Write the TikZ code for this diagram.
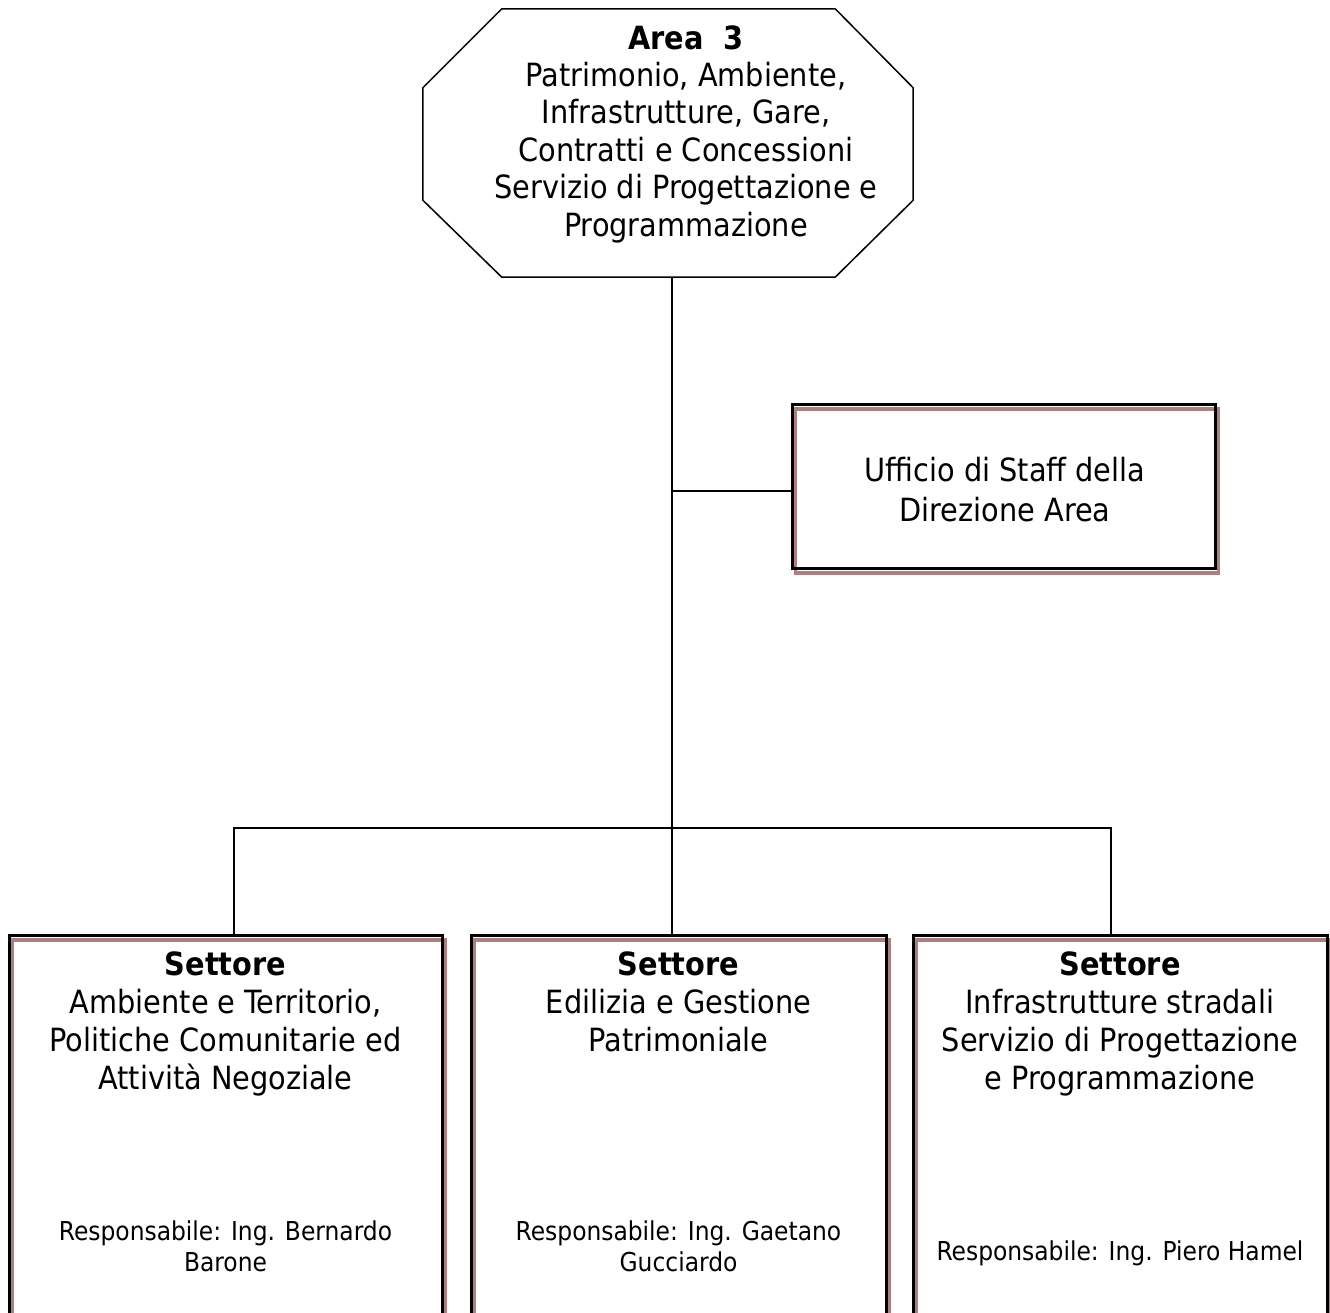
\documentclass[tikz,border=0pt]{standalone}
\usepackage{fontspec}
\setmainfont{DejaVu Sans Condensed}
\usetikzlibrary{calc}
\definecolor{shadowcol}{RGB}{172,128,128}
\tikzset{
  orgbox/.style={draw=black, line width=3pt, inner sep=0pt,
    preaction={draw=shadowcol, line width=3.2pt, transform canvas={shift={(3.5pt,-5pt)}}}},
  link/.style={draw=black, line width=2pt},
  bigtext/.style={align=center, inner sep=0pt, font=\fontsize{32}{37.4}\selectfont},
  boxtext/.style={align=center, inner sep=0pt, font=\fontsize{32}{38}\selectfont},
  stafftext/.style={align=center, inner sep=0pt, font=\fontsize{32}{40}\selectfont},
  smalltext/.style={align=center, inner sep=0pt, font=\fontsize{26}{31}\selectfont}
}
\begin{document}
\begin{tikzpicture}[x=1pt,y=-1pt]
\useasboundingbox (0,0) rectangle (1330,1312);
\clip (0,0) rectangle (1330,1312);

% Area 3 octagon
\node[inner sep=0pt, minimum width=490pt, minimum height=268pt] (area) at (668,143) {};
\draw[line width=1.5pt, line join=miter]
  ($(area.north west)+(79,0)$) -- ($(area.north east)+(-78,0)$)
  -- ($(area.north east)+(0,79)$) -- ($(area.south east)+(0,-77)$)
  -- ($(area.south east)+(-78,0)$) -- ($(area.south west)+(79,0)$)
  -- ($(area.south west)+(0,-77)$) -- ($(area.north west)+(0,79)$) -- cycle;
\node[bigtext] (areatext) at (686,134)
  {\textbf{Area\ \ 3}\\Patrimonio, Ambiente,\\Infrastrutture, Gare,\\Contratti e Concessioni\\Servizio di Progettazione e\\Programmazione};

% staff office
\node[orgbox, minimum width=423pt, minimum height=164pt] (staff) at (1003.5,486) {};
\node[stafftext] (stafftxt) at (1005,490) {Ufficio di Staff della\\Direzione Area};

% sectors
\node[orgbox, minimum width=433pt, minimum height=405pt] (s1) at (225.5,1137.5) {};
\node[orgbox, minimum width=415pt, minimum height=405pt] (s2) at (678.5,1137.5) {};
\node[orgbox, minimum width=414pt, minimum height=405pt] (s3) at (1120,1137.5) {};

\node[boxtext] (s1t) at (225.5,1024) {\textbf{Settore}\\Ambiente e Territorio,\\Politiche Comunitarie ed\\Attività Negoziale};
\node[boxtext] (s2t) at (678.5,1002) {\textbf{Settore}\\Edilizia e Gestione\\Patrimoniale};
\node[boxtext] (s3t) at (1120,1024) {\textbf{Settore}\\Infrastrutture stradali\\Servizio di Progettazione\\e Programmazione};

\node[smalltext] (s1r) at (225.5,1246.5) {Responsabile: Ing. Bernardo\\Barone};
\node[smalltext] (s2r) at (678.5,1246.5) {Responsabile: Ing. Gaetano\\Gucciardo};
\node[smalltext] (s3r) at (1120,1253) {Responsabile: Ing. Piero Hamel};

% connectors
\coordinate (hub) at (672,828);
\coordinate (tap) at (672,491);
\coordinate (busL) at (234,828);
\coordinate (busR) at (1111,828);
\draw[link] (area.south -| hub) -- (hub);
\draw[link] (tap) -- (tap -| staff.west);
\draw[link] (busL |- s1.north) -- (busL) -- (busR) -- (busR |- s3.north);
\draw[link] (hub) -- (hub |- s2.north);
\end{tikzpicture}
\end{document}
